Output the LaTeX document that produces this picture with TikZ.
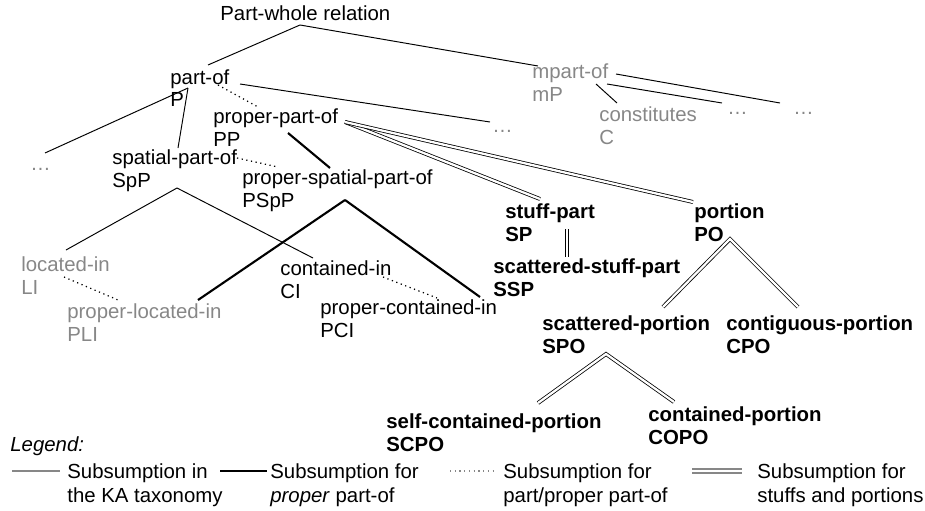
\documentclass[tikz,border=0pt]{standalone}
\usepackage{fontspec}
\setmainfont{Liberation Sans}
\usepackage{tikz}
\usetikzlibrary{positioning}
\usepackage{xcolor}
\definecolor{kagray}{RGB}{135,135,135}

\tikzset{
	term/.style={inner sep=0pt, anchor=base west, align=left,
		font=\fontsize{11.6}{12.6}\selectfont},
	minor/.style={term, text=kagray},
	stuffterm/.style={term, font=\fontsize{11.6}{12.6}\selectfont\bfseries},
	legendterm/.style={term, font=\fontsize{11.6}{13.4}\selectfont},
	isa/.style={line width=0.55pt},
	properisa/.style={line width=1.2pt},
	partisa/.style={line width=0.7pt, dotted},
	stuffisa/.style={line width=0.45pt, double, double distance=1.3pt}
}

\begin{document}
\begin{tikzpicture}[x=0.02cm, y=-0.02cm]

			\useasboundingbox (0, 0) rectangle (925, 510);

			% the relations (placed at the baseline of their last line)
			\node[term] (pw) at (220, 21) {Part-whole relation};
			\node[term] (partof) at (170, 107) {part-of\\P};
			\node[term] (ppartof) at (213, 146) {proper-part-of\\PP};
			\node[term] (spp) at (112, 187) {spatial-part-of\\SpP};
			\node[term] (pspp) at (242, 207) {proper-spatial-part-of\\PSpP};
			\node[minor] (mpartof) at (532, 101) {mpart-of\\mP};
			\node[minor] (constitutes) at (599, 144) {constitutes\\C};
			\node[minor] (located) at (21, 294) {located-in\\LI};
			\node[minor] (plocated) at (67, 341) {proper-located-in\\PLI};
			\node[term] (contained) at (280, 298) {contained-in\\CI};
			\node[term] (pcontained) at (320, 337) {proper-contained-in\\PCI};
			\node[stuffterm] (stuff) at (505, 241) {stuff-part\\SP};
			\node[stuffterm] (portion) at (694, 241) {portion\\PO};
			\node[stuffterm] (sstuff) at (493, 296) {scattered-stuff-part\\SSP};
			\node[stuffterm] (sportion) at (542, 353) {scattered-portion\\SPO};
			\node[stuffterm] (cportion) at (726, 353) {contiguous-portion\\CPO};
			\node[stuffterm] (scportion) at (386, 451) {self-contained-portion\\SCPO};
			\node[stuffterm] (coportion) at (648, 444) {contained-portion\\COPO};

			\foreach \Name/\X/\Y in {dotsL/30/170, dotsM/492/132, dotsRa/727/114, dotsRb/793/114}
			{
					\node[minor] (\Name) at (\X, \Y) {\dots};
			}

			% subsumption
			\draw[isa] ([shift={(80,4)}]pw.base west) -- ([shift={(38,-42)}]partof.base west);
			\draw[isa] ([shift={(80,4)}]pw.base west) -- ([shift={(6,-35)}]mpartof.base west);
			\draw[isa] ([shift={(70,-23)}]partof.base west) -- ([shift={(-2,-10)}]dotsM.base west);
			\draw[isa] ([shift={(18,-19)}]partof.base west) -- ([shift={(15,-17)}]dotsL.base west);
			\draw[isa] ([shift={(18,-19)}]partof.base west) -- ([shift={(66,-39)}]spp.base west);
			\draw[isa] ([shift={(64,-17)}]mpartof.base west) -- ([shift={(18,-41)}]constitutes.base west);
			\draw[isa] ([shift={(75,-17)}]mpartof.base west) -- ([shift={(-5,-11)}]dotsRa.base west);
			\draw[isa] ([shift={(84,-27)}]mpartof.base west) -- ([shift={(-13,-11)}]dotsRb.base west);
			\draw[isa] ([shift={(65,1)}]spp.base west) -- ([shift={(45,-44)}]located.base west);
			\draw[isa] ([shift={(65,1)}]spp.base west) -- ([shift={(33,-40)}]contained.base west);

			\draw[properisa] ([shift={(75,-13)}]ppartof.base west) -- ([shift={(88,-39)}]pspp.base west);
			\draw[properisa] ([shift={(103,-7)}]pspp.base west) -- ([shift={(131,-41)}]plocated.base west);
			\draw[properisa] ([shift={(103,-7)}]pspp.base west) -- ([shift={(160,-40)}]pcontained.base west);

			\draw[partisa] ([shift={(48,-22)}]partof.base west) -- ([shift={(45,-39)}]ppartof.base west);
			\draw[partisa] ([shift={(125,-29)}]spp.base west) -- ([shift={(36,-40)}]pspp.base west);
			\draw[partisa] ([shift={(43,-17)}]located.base west) -- ([shift={(51,-41)}]plocated.base west);
			\draw[partisa] ([shift={(103,-21)}]contained.base west) -- ([shift={(117,-39)}]pcontained.base west);

			\draw[stuffisa] ([shift={(132,-24)}]ppartof.base west) -- ([shift={(35,-42)}]stuff.base west);
			\draw[stuffisa] ([shift={(132,-24)}]ppartof.base west) -- ([shift={(-1,-39)}]portion.base west);
			\draw[stuffisa] ([shift={(62,-12)}]stuff.base west) -- ([shift={(74,-39)}]sstuff.base west);
			\draw[stuffisa] ([shift={(121,-46)}]sportion.base west) -- ([shift={(36,-2)}]portion.base west)
				-- ([shift={(72,-46)}]cportion.base west);
			\draw[stuffisa] ([shift={(152,-48)}]scportion.base west) -- ([shift={(64,1)}]sportion.base west)
				-- ([shift={(26,-42)}]coportion.base west);

			% legend
			\node[term, font=\fontsize{11.6}{12.6}\selectfont\itshape] (legend) at (10, 451) {Legend:};
			\node[legendterm] (lgisa) at (67, 502) {Subsumption in\\the KA taxonomy};
			\node[legendterm] (lgproper) at (270, 502) {Subsumption for\\\textit{proper} part-of};
			\node[legendterm] (lgpart) at (503, 502) {Subsumption for\\part/proper part-of};
			\node[legendterm] (lgstuff) at (757, 502) {Subsumption for\\stuffs and portions};

			\draw[line width=1pt, kagray] ([shift={(-55,-31)}]lgisa.base west) -- ([shift={(-7,-31)}]lgisa.base west);
			\draw[properisa] ([shift={(-50,-31)}]lgproper.base west) -- ([shift={(-3,-31)}]lgproper.base west);
			\draw[partisa, kagray] ([shift={(-53,-31)}]lgpart.base west) -- ([shift={(-6,-31)}]lgpart.base west);
			\draw[stuffisa, kagray, line width=0.9pt, double distance=1.4pt] ([shift={(-65,-31)}]lgstuff.base west) -- ([shift={(-15,-31)}]lgstuff.base west);

		\end{tikzpicture}
\end{document}
